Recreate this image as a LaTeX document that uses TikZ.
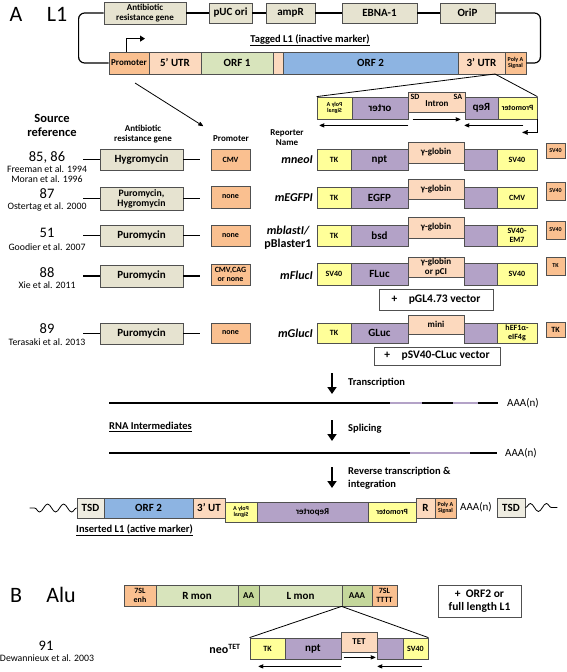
\documentclass[tikz,border=0pt]{standalone}
\usepackage{fontspec}
\setmainfont{Carlito}
\usetikzlibrary{calc,positioning,arrows,arrows.meta,decorations.pathmorphing}

\definecolor{khaki}{HTML}{E6E3D0}
\definecolor{ltgray}{HTML}{EEECE1}
\definecolor{orng}{HTML}{FAC090}
\definecolor{peach}{HTML}{FCD9BE}
\definecolor{orfgreen}{HTML}{D8E4BC}
\definecolor{aagreen}{HTML}{C4D79B}
\definecolor{orfblue}{HTML}{8DB4E2}
\definecolor{lav}{HTML}{B3A2C7}
\definecolor{yel}{HTML}{FFFF99}
\definecolor{edge}{HTML}{505050}

\newcommand*\fsZ{\fontsize{6}{6.5}\selectfont}
\newcommand*\fsA{\fontsize{8}{8.5}\selectfont}
\newcommand*\fsB{\fontsize{9}{10}\selectfont}
\newcommand*\fsC{\fontsize{11}{11.5}\selectfont}
\newcommand*\fsD{\fontsize{14.5}{15}\selectfont}
\newcommand*\fsE{\fontsize{22}{24}\selectfont}
\newcommand*\fsR{\fontsize{9.8}{10}\selectfont}
\newcommand*\fsS{\fontsize{12.5}{14}\selectfont}
\newcommand*\fsN{\fontsize{12}{13}\selectfont}
\newcommand*\fsT{\fontsize{10.5}{13}\selectfont}
\newcommand*\fsV{\fontsize{11.5}{13}\selectfont}

\tikzset{
	>=stealth',
	segbox/.style={
		rectangle,
		draw=edge, line width=0.8pt,
		inner sep=0pt,
		align=center,
		font=\bfseries\fsB},
	sZ/.style={font=\bfseries\fsZ},
	sA/.style={font=\bfseries\fsA},
	sB/.style={font=\bfseries\fsB},
	sC/.style={font=\bfseries\fsC},
	sV/.style={font=\bfseries\fsV},
	lbl/.style={inner sep=0pt, align=center},
	link/.style={draw, line width=1.8pt},
	backbone/.style={draw, line width=1.2pt, rounded corners=6pt},
	dirarrow/.style={draw, line width=0.8pt, ->},
	stepdown/.style={draw, line width=2.4pt, -{Triangle[width=9pt,length=7pt]}},
	rna/.style={line width=2.6pt},
	wave/.style={decorate, decoration={snake, amplitude=4pt, segment length=16pt}, line width=0.8pt},
}
% name, x1, y1, x2, y2, options, text
\newcommand*\seg[7]{%
	\node[segbox, minimum width=#4pt-#2pt, minimum height=#5pt-#3pt, #6]
	(#1) at ({(#2+#4)/2},{(#3+#5)/2}) {#7};}
\newcommand*\polyA{\begin{tabular}{@{}c@{}}Poly A\\Signal\end{tabular}}

\begin{document}
\begin{tikzpicture}[x=1pt, y=-1pt]
\useasboundingbox (0,0) rectangle (567,672);

%% panel A
\node[lbl, font=\fsE] (lblA) at (16,14) {A};
\node[lbl, font=\fsE] (lblL1) at (57,14) {L1};

% vector
\seg{abr}{104}{2}{186}{24}{fill=khaki, sB}{Antibiotic\\resistance gene}
\seg{puc}{209}{3}{252}{23}{fill=khaki, sC}{pUC ori}
\seg{ampr}{266}{3}{315}{23}{fill=khaki, sC}{ampR}
\seg{ebna}{342}{3}{417}{23}{fill=khaki, sC}{EBNA-1}
\seg{orip}{440}{3}{495}{23}{fill=khaki, sC}{OriP}

% tagged L1
\seg{prom}{109}{52}{149}{74}{fill=orng, sB}{Promoter}
\seg{utr5}{149}{52}{201}{74}{fill=peach, sC}{5’ UTR}
\seg{orf1}{201}{52}{273}{74}{fill=orfgreen, sC}{ORF 1}
\seg{igr}{273}{52}{283}{74}{fill=peach}{}
\seg{orf2}{283}{52}{458}{74}{fill=orfblue, sC}{ORF 2}
\seg{utr3}{458}{52}{505}{74}{fill=peach, sC}{3’ UTR}
\seg{pas}{505}{52}{526}{74}{fill=orng, sZ}{\polyA}

\draw[backbone] (abr.west) -- ++(-25,0) |- (prom.west);
\draw[backbone] (abr.east) -- (puc.west) (puc.east) -- (ampr.west)
	(ampr.east) -- (ebna.west) (ebna.east) -- (orip.west);
\draw[backbone] (orip.east) -- ++(45,0) |- (pas.east);
\draw[line width=1pt, -{Triangle[width=6pt,length=5pt]}] ([xshift=-3pt]prom.north) |- ++(19,-13);
\node[lbl, font=\bfseries\fsT] (tagged) at (310,40) {\underline{Tagged L1 (inactive marker)}};

% reporter cassette
\coordinate (ins) at (495,74);
\seg{cpa}{317}{97}{352}{119}{fill=yel, sZ}{\reflectbox{\polyA}}
\seg{corter}{352}{97}{408}{119}{fill=lav, sC}{\reflectbox{orter}}
\seg{cint}{408}{92}{465}{112}{fill=peach}{}
\seg{crep}{465}{97}{498}{119}{fill=lav, sC}{\reflectbox{Rep}}
\seg{cpro}{498}{97}{537}{119}{fill=yel, sA}{\reflectbox{Promoter}}
\node[lbl, font=\bfseries\fsB] (intron) at (437,104) {Intron};
\node[lbl, font=\bfseries\fsA] (sd) at (415,97) {SD};
\node[lbl, font=\bfseries\fsA] (sa) at (458,97) {SA};
\draw[line width=0.8pt] (ins) -- (cpa.north west) (ins) -- (cpro.north east);
\draw[dirarrow] ([yshift=-6pt]corter.south east) -- ([xshift=3pt,yshift=-6pt]cpa.south west);
\draw[dirarrow] ([xshift=5pt,yshift=-7pt]cint.south west) -- ([xshift=-5pt,yshift=-7pt]cint.south east);
\draw[dirarrow] ([xshift=-14pt,yshift=-6pt]cpro.south east) -- ([yshift=-6pt]crep.south west);
\draw[line width=1pt, ->] (cpro.south east) -- ++(0,13) -- ++(-15,0);

% headers
\coordinate (pt1) at (135,83);
\coordinate (pt2) at (203,126);
\draw[line width=0.8pt, ->] (pt1) -- (pt2);
\node[lbl, font=\bfseries\fsS] (srchead) at (52,125) {Source\\reference};
\node[lbl, font=\bfseries\fsB] (abhead) at (143,134) {Antibiotic\\resistance gene};
\node[lbl, font=\bfseries\fsB] (promhead) at (231,139) {Promoter};
\node[lbl, font=\bfseries\fsB] (rephead) at (287,138) {Reporter\\Name};

% mneoI
\node[lbl, font=\fsD] (ref1) at (47,157) {85, 86};
\node[lbl, font=\fsR] (cit1) at (47,174) {Freeman et al. 1994\\Moran et al. 1996};
\seg{ab1}{100}{149}{183}{170}{fill=khaki, sC}{Hygromycin}
\seg{pr1}{211}{149}{250}{170}{fill=orng, sA}{CMV}
\draw[link] (ab1.west) -- ++(-17,0) (ab1.east) -- ++(17,0);
\node[lbl, font=\bfseries\itshape\fsN, anchor=east] (nm1) at (313,160) {mneoI};
\seg{tk1}{317}{149}{351}{170}{fill=yel, sA}{TK}
\seg{rp1}{351}{149}{408}{170}{fill=lav, sC}{npt}
\seg{in1}{408}{142}{464}{163}{fill=peach, sB}{γ-globin}
\seg{ex1}{464}{149}{497}{170}{fill=lav}{}
\seg{pp1}{497}{149}{537}{170}{fill=yel, sA}{SV40}
\seg{pa1}{546}{143}{565}{158}{fill=orng, sZ}{SV40}

% mEGFPI
\node[lbl, font=\fsD] (ref2) at (47,194) {87};
\node[lbl, font=\fsR] (cit2) at (47,207) {Ostertag et al. 2000};
\seg{ab2}{100}{187}{183}{210}{fill=khaki, font=\bfseries\fontsize{9.8}{10}\selectfont}{Puromycin,\\Hygromycin}
\seg{pr2}{211}{186}{250}{208}{fill=orng, sA}{none}
\draw[link] (ab2.west) -- ++(-17,0) (ab2.east) -- ++(17,0);
\node[lbl, font=\bfseries\itshape\fsN, anchor=east] (nm2) at (313,198) {mEGFPI};
\seg{tk2}{317}{187}{351}{208}{fill=yel, sA}{TK}
\seg{rp2}{351}{187}{408}{208}{fill=lav, sC}{EGFP}
\seg{in2}{408}{179}{464}{199}{fill=peach, sB}{γ-globin}
\seg{ex2}{464}{187}{497}{208}{fill=lav}{}
\seg{pp2}{497}{187}{537}{208}{fill=yel, sA}{CMV}
\seg{pa2}{546}{182}{565}{200}{fill=orng, sZ}{SV40}

% mblastI
\node[lbl, font=\fsD] (ref3) at (47,233) {51};
\node[lbl, font=\fsR] (cit3) at (47,247) {Goodier et al. 2007};
\seg{ab3}{100}{225}{183}{246}{fill=khaki, sC}{Puromycin}
\seg{pr3}{211}{225}{250}{246}{fill=orng, sA}{none}
\draw[link] (ab3.west) -- ++(-17,0) (ab3.east) -- ++(17,0);
\node[lbl, font=\bfseries\fsN] (nm3) at (288,238) {\itshape mblastI/\\pBlaster1};
\seg{tk3}{317}{225}{351}{246}{fill=yel, sA}{TK}
\seg{rp3}{351}{225}{408}{246}{fill=lav, sC}{bsd}
\seg{in3}{408}{217}{464}{238}{fill=peach, sB}{γ-globin}
\seg{ex3}{464}{225}{497}{246}{fill=lav}{}
\seg{pp3}{497}{225}{537}{246}{fill=yel, sA}{SV40-\\EM7}
\seg{pa3}{546}{221}{565}{239}{fill=orng, sZ}{SV40}

% mFlucI
\node[lbl, font=\fsD] (ref4) at (47,273) {88};
\node[lbl, font=\fsR] (cit4) at (47,285) {Xie et al. 2011};
\seg{ab4}{100}{265}{183}{287}{fill=khaki, sC}{Puromycin}
\seg{pr4}{211}{264}{250}{285}{fill=orng, sA}{CMV,CAG\\or none}
\draw[link] (ab4.west) -- ++(-17,0) (ab4.east) -- ++(17,0);
\node[lbl, font=\bfseries\itshape\fsN, anchor=east] (nm4) at (313,275) {mFlucI};
\seg{tk4}{317}{263}{351}{285}{fill=yel, sA}{SV40}
\seg{rp4}{351}{263}{408}{285}{fill=lav, sC}{FLuc}
\seg{in4}{408}{257}{464}{277}{fill=peach, sB}{γ-globin\\or pCI}
\seg{ex4}{464}{263}{497}{285}{fill=lav}{}
\seg{pp4}{497}{263}{537}{285}{fill=yel, sA}{SV40}
\seg{pa4}{546}{257}{565}{275}{fill=orng, sZ}{TK}
\seg{vec4}{379}{289}{493}{310}{fill=white, sV}{+\quad pGL4.73 vector}

% mGlucI
\node[lbl, font=\fsD] (ref5) at (47,329) {89};
\node[lbl, font=\fsR] (cit5) at (47,342) {Terasaki et al. 2013};
\seg{ab5}{100}{323}{183}{344}{fill=khaki, sC}{Puromycin}
\seg{pr5}{211}{323}{250}{343}{fill=orng, sA}{none}
\draw[link] (ab5.west) -- ++(-17,0) (ab5.east) -- ++(17,0);
\node[lbl, font=\bfseries\itshape\fsN, anchor=east] (nm5) at (313,333) {mGlucI};
\seg{tk5}{317}{323}{351}{343}{fill=yel, sA}{TK}
\seg{rp5}{351}{323}{408}{343}{fill=lav, sC}{GLuc}
\seg{in5}{408}{315}{464}{334}{fill=peach, sB}{mini}
\seg{ex5}{464}{323}{497}{343}{fill=lav}{}
\seg{pp5}{497}{323}{537}{343}{fill=yel, sA}{hEF1α-\\eIF4g}
\seg{pa5}{546}{322}{565}{337}{fill=orng, sA}{TK}
\seg{vec5}{374}{347}{500}{365}{fill=white, sV}{+\quad pSV40-CLuc vector}

% RNA intermediates
\coordinate (s1a) at (332,373);
\coordinate (s1b) at (332,394);
\draw[stepdown] (s1a) -- (s1b);
\node[lbl, font=\bfseries\fsT, anchor=west] (txn) at (348,383) {Transcription};

\coordinate (rna1) at (109,403);
\draw[rna] (rna1) -- ++(281,0) coordinate (e1a);
\draw[rna, lav] (e1a) -- ++(32,0) coordinate (e1b);
\draw[rna] (e1b) -- ++(31,0) coordinate (e1c);
\draw[rna, lav] (e1c) -- ++(25,0) coordinate (e1d);
\draw[rna] (e1d) -- ++(20,0) coordinate (e1e);
\node[lbl, font=\fsC, anchor=west] (aaa1) at ([xshift=9pt]e1e) {AAA(n)};

\node[lbl, font=\bfseries\fsT, anchor=west] (rnahead) at (109,427) {\underline{RNA Intermediates}};
\coordinate (s2a) at (332,420);
\coordinate (s2b) at (332,441);
\draw[stepdown] (s2a) -- (s2b);
\node[lbl, font=\bfseries\fsT, anchor=west] (splc) at (348,429) {Splicing};

\coordinate (rna2) at (109,453);
\draw[rna] (rna2) -- ++(301,0) coordinate (e2a);
\draw[rna, lav] (e2a) -- ++(60,0) coordinate (e2b);
\draw[rna] (e2b) -- ++(27,0) coordinate (e2c);
\node[lbl, font=\fsC, anchor=west] (aaa2) at ([xshift=8pt]e2c) {AAA(n)};

\coordinate (s3a) at (332,467);
\coordinate (s3b) at (332,488);
\draw[stepdown] (s3a) -- (s3b);
\node[lbl, font=\bfseries\fsT, anchor=west, align=left] (rtx) at (348,478) {Reverse transcription \&\\integration};

% inserted L1
\seg{tsdL}{77}{498}{104}{518}{fill=ltgray, sC}{TSD}
\seg{iorf2}{104}{498}{193}{518}{fill=orfblue, sC}{ORF 2}
\seg{iutr}{193}{498}{225}{518}{fill=peach, sC}{3’ UT}
\seg{ipa}{225}{502}{257}{522}{fill=yel, sZ}{\reflectbox{\polyA}}
\seg{irep}{257}{502}{368}{522}{fill=lav, sB}{\reflectbox{Reporter}}
\seg{ipro}{368}{502}{416}{522}{fill=yel, sA}{\reflectbox{Promoter}}
\seg{ir}{416}{498}{435}{518}{fill=peach, sC}{R}
\seg{ipas}{435}{498}{456}{518}{fill=orng, sZ}{\polyA}
\node[lbl, font=\fsC, anchor=west] (aaa3) at (460,507) {AAA(n)};
\seg{tsdR}{497}{498}{525}{517}{fill=ltgray, sC}{TSD}
\draw[wave] (tsdL.west) -- ++(-47,0);
\draw[wave] (tsdR.east) -- ++(32,0);
\node[lbl, font=\bfseries\fsT, anchor=west] (inshead) at (76,530) {\underline{Inserted L1 (active marker)}};

%% panel B
\node[lbl, font=\fsE] (lblB) at (16,595) {B};
\node[lbl, font=\fsE] (lblAlu) at (61,595) {Alu};
\seg{sl7}{124}{585}{156}{606}{fill=orng, sA}{7SL\\enh}
\seg{rmon}{156}{585}{238}{606}{fill=orfgreen, sC}{R mon}
\seg{aa}{238}{585}{259}{606}{fill=aagreen, sB}{AA}
\seg{lmon}{259}{585}{342}{606}{fill=orfgreen, sC}{L mon}
\seg{aaa}{342}{585}{372}{606}{fill=aagreen, sB}{AAA}
\seg{sltt}{372}{585}{397}{606}{fill=orng, sA}{7SL\\TTTT}
\seg{orfb}{438}{585}{521}{617}{fill=white, sV}{+\ \ ORF2 or\\full length L1}

\node[lbl, font=\fsD] (ref6) at (46,646) {91};
\node[lbl, font=\fsR] (cit6) at (47,658) {Dewannieux et al. 2003};
\node[lbl, font=\bfseries\fsN] (neo) at (225,649) {neo\textsuperscript{TET}};
\seg{ntk}{250}{638}{285}{659}{fill=yel, sA}{TK}
\seg{nnpt}{285}{638}{341}{659}{fill=lav, sC}{npt}
\seg{ntet}{341}{632}{377}{652}{fill=peach, sB}{TET}
\seg{nex}{377}{638}{403}{659}{fill=lav}{}
\seg{nsv}{403}{638}{428}{659}{fill=yel, sA}{SV40}
\draw[line width=0.8pt] (aaa.south west) -- (ntk.north west) (aaa.south west) -- (nsv.north east);
\draw[dirarrow] ([yshift=-7pt]nnpt.south east) -- ([xshift=9pt,yshift=-7pt]ntk.south west);
\draw[dirarrow] ([xshift=3pt,yshift=-5pt]ntet.south west) -- ([xshift=-2pt,yshift=-5pt]ntet.south east);
\draw[dirarrow] ([xshift=-6pt,yshift=-7pt]nsv.south east) -- ([xshift=1pt,yshift=-7pt]nex.south west);
\end{tikzpicture}
\end{document}
